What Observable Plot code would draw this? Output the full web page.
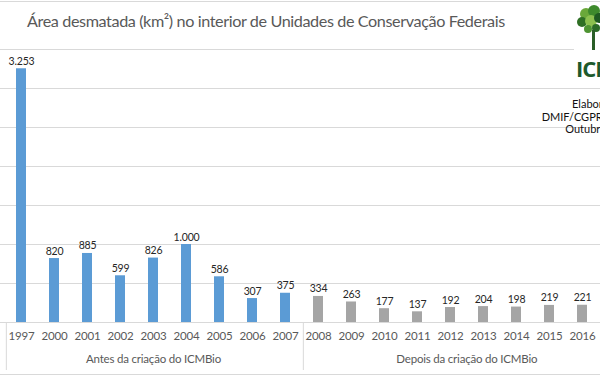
<!DOCTYPE html>
<html><head><meta charset="utf-8">
<script src="https://cdn.jsdelivr.net/npm/d3@7"></script>
<script src="https://cdn.jsdelivr.net/npm/@observablehq/plot@0.6"></script>
<style>
body{margin:0;background:#fff;font-family:Lato,"Open Sans",sans-serif;}
#wrap{position:relative;width:600px;height:376px;overflow:hidden;background:#fff;}
#topline{position:absolute;left:0;top:1px;width:600px;height:1px;background:#d9d9d9;}
#bottomline{position:absolute;left:0;top:374px;width:600px;height:1px;background:#d9d9d9;}
#title{position:absolute;left:27px;top:11px;font-size:16.2px;letter-spacing:-0.4px;color:#595959;white-space:nowrap;font-family:Lato,sans-serif;}
#chart{position:absolute;left:0;top:45px;}
#chart svg{letter-spacing:-0.2px;}
#logo{position:absolute;left:574px;top:4px;width:40px;height:76px;background:#fff;}
#icm{position:absolute;left:576px;top:53px;font-size:22px;font-weight:bold;color:#1d5a2c;font-family:"Open Sans",sans-serif;letter-spacing:-1px;}
#credit{position:absolute;left:540px;width:120px;top:98px;text-align:center;font-size:11px;line-height:12.5px;color:#111;white-space:nowrap;font-family:Lato,sans-serif;}
</style>
</head><body>
<div id="wrap">
  <div id="topline"></div>
  <div id="title">Área desmatada (km²) no interior de Unidades de Conservação Federais</div>
  <div id="chart"></div>
  <div id="logo"><svg width="40" height="50" viewBox="0 0 40 50">
    <circle cx="12" cy="10" r="6" fill="#6aa83a"/>
    <circle cx="20" cy="7" r="6" fill="#3e8a2c"/>
    <circle cx="8" cy="18" r="5" fill="#2f6f25"/>
    <circle cx="17" cy="17" r="6" fill="#8cc04f"/>
    <circle cx="25" cy="14" r="5" fill="#1f5a22"/>
    <circle cx="14" cy="25" r="4" fill="#4e9432"/>
    <circle cx="22" cy="24" r="4" fill="#2c6b27"/>
    <rect x="18" y="26" width="3" height="20" fill="#2a5e28"/>
  </svg></div>
  <div id="icm">ICMBio</div>
  <div id="credit">Elaboração:<br>DMIF/CGPROT/ICMBio<br>Outubro 2017</div>
  <div id="bottomline"></div>
</div>
<script>
const years = ["1997","2000","2001","2002","2003","2004","2005","2006","2007","2008","2009","2010","2011","2012","2013","2014","2015","2016"];
const values = [3253,820,885,599,826,1000,586,307,375,334,263,177,137,192,204,198,219,221];
const periods = ["antes","antes","antes","antes","antes","antes","antes","antes","antes","depois","depois","depois","depois","depois","depois","depois","depois","depois"];
const xCategories = [...years, "2017"];
const groupNames = ["Antes da criação do ICMBio", "Depois da criação do ICMBio"];
const groupFirst = ["1997", "2008"];
const groupLast = ["2007", "2017"];
const gridValues = [0,500,1000,1500,2000,2500,3000,3500];

const data = years.map((y, i) => ({year: y, value: values[i], period: periods[i]}));
const fmt = d3.formatLocale({decimal: ",", thousands: ".", grouping: [3], currency: ["R$", ""]}).format(",");

const step = 100 / 3;
const x0 = 1;
const xRange = [x0, x0 + xCategories.length * step];

const groupMarks = [];
groupNames.forEach((name, g) => {
  const i0 = xCategories.indexOf(groupFirst[g]);
  const i1 = xCategories.indexOf(groupLast[g]);
  const c = (i0 + i1) / 2;
  const ci = Math.ceil(c);
  const off = (c - ci) * step;
  groupMarks.push(Plot.text([name], {x: () => xCategories[ci], frameAnchor: "bottom", dy: 40, dx: off, fontSize: 11.5, fill: "#595959"}));
  groupMarks.push(Plot.ruleX([groupFirst[g]], {x: d => d, y1: 0, y2: 0, insetBottom: -48, dx: -step / 2 + 1.5, stroke: "#d9d9d9"}));
});

const chart = Plot.plot({
  width: 600,
  height: 331,
  marginTop: 4,
  marginBottom: 54,
  marginLeft: 0,
  marginRight: 0,
  style: {fontFamily: "Lato, sans-serif", fontSize: "11.5px", color: "#595959", background: "transparent", overflow: "visible"},
  x: {domain: xCategories, range: xRange, paddingInner: 0.7, paddingOuter: 0.35, tickSize: 0, tickPadding: 9, label: null},
  y: {domain: [0, 3500], axis: null},
  color: {domain: ["antes", "depois"], range: ["#5b9bd5", "#a5a5a5"]},
  marks: [
    Plot.ruleY(gridValues, {stroke: "#d9d9d9"}),
    Plot.barY(data, {x: "year", y: "value", fill: "period"}),
    Plot.text(data, {x: "year", y: "value", text: d => fmt(d.value), dy: -4, lineAnchor: "bottom", fontSize: 10.5, fill: "#262626"}),
    ...groupMarks
  ]
});
document.getElementById("chart").appendChild(chart);
</script>
</body></html>
